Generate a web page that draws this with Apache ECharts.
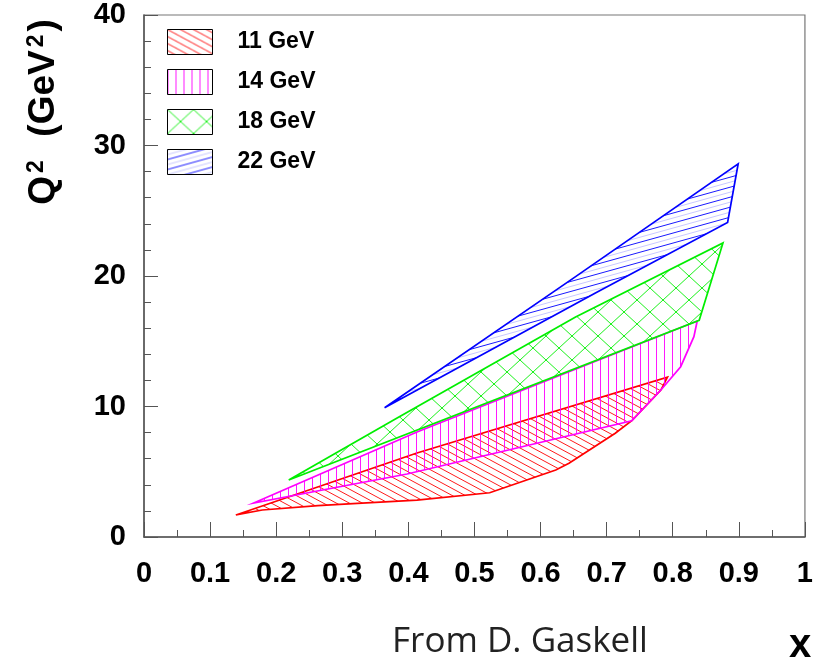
<!DOCTYPE html>
<html><head><meta charset="utf-8">
<script src="https://cdn.jsdelivr.net/npm/echarts@6/dist/echarts.min.js"></script>
<style>html,body{margin:0;padding:0;background:#fff}#c{width:816px;height:662px}</style>
</head><body><div id="c"></div>
<script>
// ---- data (x, Q^2) polygon outlines ----
const legendNames = ['11 GeV', '14 GeV', '18 GeV', '22 GeV'];
const band11 = [[0.139,1.69],[0.413,6.44],[0.792,12.24],[0.782,11.26],[0.738,8.91],[0.713,7.95],[0.643,5.65],[0.623,5.13],[0.523,3.39],[0.413,2.83],[0.323,2.58],[0.263,2.40],[0.179,2.07]];
const band14 = [[0.166,2.60],[0.413,8.05],[0.837,16.55],[0.832,15.35],[0.812,13.05],[0.782,11.26],[0.738,8.91],[0.398,4.83]];
const band18 = [[0.219,4.37],[0.383,9.12],[0.653,16.86],[0.876,22.53],[0.840,16.60]];
const band22 = [[0.364,9.90],[0.653,19.95],[0.899,28.60],[0.883,24.10],[0.683,18.70]];
const xRange = [0, 1], xStep = 0.1;
const yRange = [0, 40], yStep = 10;

const bands = [band11, band14, band18, band22];
const colors = ['#ff0000', '#ff00ff', '#00ee00', '#0000ff'];
const hatchDefs = [
  {w: 13, h: 7,  kinds: ['down']},
  {w: 8,  h: 8,  kinds: ['vert']},
  {w: 26, h: 24, kinds: ['down', 'up']},
  {w: 36, h: 10, kinds: ['up'], ghost: true}
];

function hatch(def, color) {
  const c = document.createElement('canvas');
  c.width = def.w; c.height = def.h;
  const g = c.getContext('2d');
  g.lineWidth = 1; g.strokeStyle = color;
  const w = def.w, h = def.h;
  const drawKind = (kind, off, alpha) => {
    g.globalAlpha = alpha;
    g.beginPath();
    if (kind === 'vert') { g.moveTo(0.5 + off, 0); g.lineTo(0.5 + off, h); }
    else {
      for (let k = -1; k <= 2; k++) {
        const y0 = k * h + off;
        if (kind === 'down') { g.moveTo(0, y0); g.lineTo(w, y0 + h); }
        else { g.moveTo(0, y0); g.lineTo(w, y0 - h); }
      }
    }
    g.stroke();
  };
  def.kinds.forEach(k => drawKind(k, 0, 0.9));
  if (def.ghost) def.kinds.forEach(k => drawKind(k, h / 2, 0.22));
  return {image: c, repeat: 'repeat'};
}

const series = bands.map((pts, i) => {
  const pattern = hatch(hatchDefs[i], colors[i]);
  return {
    type: 'custom',
    name: legendNames[i],
    coordinateSystem: 'cartesian2d',
    data: pts,
    encode: {x: 0, y: 1},
    itemStyle: {color: pattern, borderColor: colors[i]},
    silent: true,
    renderItem: function (params, api) {
      if (params.dataIndex !== 0) return null;
      const points = pts.map(p => api.coord(p));
      return {
        type: 'polygon',
        shape: {points: points},
        style: {fill: pattern, stroke: colors[i], lineWidth: 1.7}
      };
    }
  };
});

const tickColor = '#555';
const chart = echarts.init(document.getElementById('c'), null, {renderer: 'canvas'});
chart.setOption({
  animation: false,
  backgroundColor: '#fff',
  grid: {left: 144, right: 4, top: 15, bottom: 125, show: true, borderColor: '#777', borderWidth: 1.2, containLabel: false},
  legend: {
    orient: 'vertical', left: 167, top: 29, padding: 0, itemGap: 14,
    itemWidth: 45, itemHeight: 25, icon: 'rect',
    data: legendNames,
    itemStyle: {borderColor: '#000', borderWidth: 1},
    textStyle: {fontFamily: 'Liberation Sans', fontWeight: 'bold', fontSize: 23, color: '#000', padding: [0, 0, 0, 20]},
    selectedMode: false
  },
  xAxis: {
    type: 'value', min: xRange[0], max: xRange[1], interval: xStep,
    axisLine: {show: true, onZero: false, lineStyle: {color: tickColor, width: 1.5}},
    axisTick: {show: true, inside: true, length: 15, lineStyle: {color: tickColor, width: 1}},
    minorTick: {show: true, splitNumber: 2, length: 7, lineStyle: {color: tickColor, width: 1}},
    splitLine: {show: false},
    axisLabel: {fontFamily: 'Liberation Sans', fontWeight: 'bold', fontSize: 29, color: '#000', margin: 22}
  },
  yAxis: {
    type: 'value', min: yRange[0], max: yRange[1], interval: yStep,
    axisLine: {show: true, onZero: false, lineStyle: {color: tickColor, width: 1.5}},
    axisTick: {show: true, inside: true, length: 14, lineStyle: {color: tickColor, width: 1}},
    minorTick: {show: true, splitNumber: 5, length: 7, lineStyle: {color: tickColor, width: 1}},
    splitLine: {show: false},
    axisLabel: {fontFamily: 'Liberation Sans', fontWeight: 'bold', fontSize: 29, color: '#000', margin: 18}
  },
  graphic: [
    {type: 'text', x: 44, y: 112, rotation: Math.PI / 2,
     style: {text: 'Q{s|2}  (GeV{s|2})', fontFamily: 'Liberation Sans', fontWeight: 'bold', fontSize: 37, fill: '#000',
             align: 'center', verticalAlign: 'middle',
             rich: {s: {fontFamily: 'Liberation Sans', fontWeight: 'bold', fontSize: 23, verticalAlign: 'top', padding: [0, 3, 0, 3]}}}},
    {type: 'text', x: 520, y: 642,
     style: {text: 'From D. Gaskell', fontFamily: 'Open Sans', fontSize: 35, fill: '#222', align: 'center', verticalAlign: 'middle'}},
    {type: 'text', x: 800, y: 646,
     style: {text: 'x', fontFamily: 'Liberation Sans', fontWeight: 'bold', fontSize: 40, fill: '#000', align: 'center', verticalAlign: 'middle'}}
  ],
  series: series
});
</script></body></html>
